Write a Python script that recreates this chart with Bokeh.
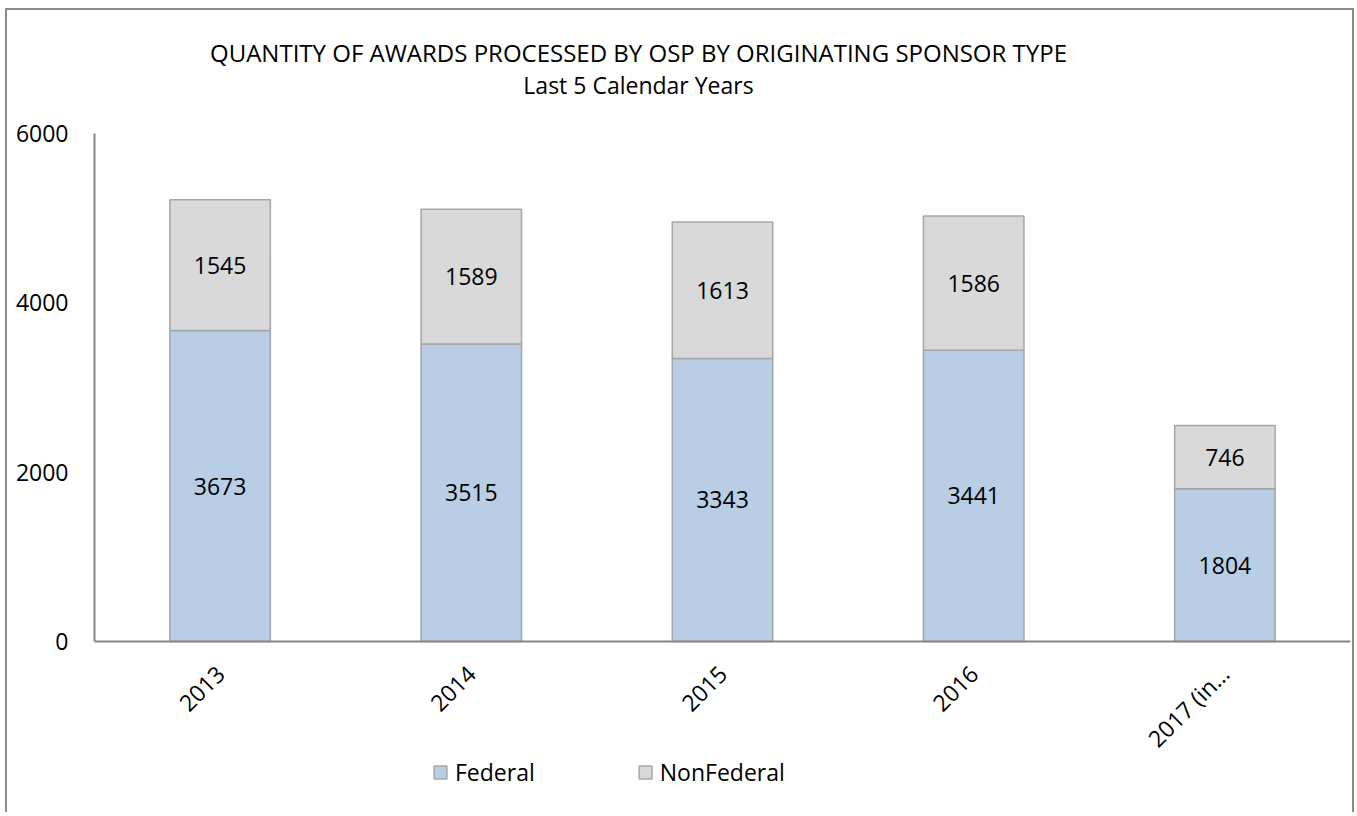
from bokeh.plotting import figure
from bokeh.models import Label, Legend, LegendItem, ColumnDataSource, FactorRange, Range1d, FixedTicker
from bokeh.core.properties import value
from bokeh.embed import file_html
from bokeh.resources import INLINE

years = ["2013", "2014", "2015", "2016", "2017 (in\u2026"]
federal = [3673, 3515, 3343, 3441, 1804]
nonfederal = [1545, 1589, 1613, 1586, 746]
y_ticks = [0, 2000, 4000, 6000]
title_1 = "QUANTITY OF AWARDS PROCESSED BY OSP BY ORIGINATING SPONSOR TYPE"
title_2 = "Last 5 Calendar Years"

FONT = "Open Sans"
FED_COLOR = "#B9CDE5"
NONFED_COLOR = "#D9D9D9"
EDGE = "#A6A6A6"
AXIS = "#868686"

# layout geometry (page pixels)
W, H = 1349, 804
CANVAS_Y0 = 10
FRAME_TOP, FRAME_BOTTOM = 20, 804      # page y of frame edges
ZERO_Y, TOP_Y = 641, 133               # page y of value 0 and value 6000
k = (ZERO_Y - TOP_Y) / 6000.0
y_end = (ZERO_Y - FRAME_TOP) / k
y_start = (ZERO_Y - FRAME_BOTTOM) / k

src = ColumnDataSource(dict(
    year=years,
    Federal=federal,
    NonFederal=nonfederal,
    fed_mid=[f / 2 for f in federal],
    non_mid=[f + n / 2 for f, n in zip(federal, nonfederal)],
    fed_txt=[str(v) for v in federal],
    non_txt=[str(v) for v in nonfederal],
))

p = figure(
    width=W, height=H,
    x_range=FactorRange(*years, range_padding=0),
    y_range=Range1d(y_start, y_end),
    output_backend="svg", toolbar_location=None,
    min_border_left=87, min_border_right=6, min_border_top=FRAME_TOP - CANVAS_Y0,
    min_border_bottom=CANVAS_Y0 + H - FRAME_BOTTOM,
)
p.margin = (8, 0, 0, 5)
p.styles = {"border-top": "2px solid #8C8C8C", "border-left": "2px solid #8C8C8C",
            "border-right": "2px solid #8C8C8C"}
p.outline_line_color = None
p.xgrid.grid_line_color = None
p.ygrid.grid_line_color = None

rs = p.vbar_stack(["Federal", "NonFederal"], x="year", width=0.4, source=src,
                  fill_color=[FED_COLOR, NONFED_COLOR], line_color=EDGE, line_width=1.5)

p.text(x="year", y="fed_mid", text="fed_txt", source=src, text_align="center",
       text_baseline="middle", text_font=value(FONT), text_font_size="23px", text_color="#000000")
p.text(x="year", y="non_mid", text="non_txt", source=src, text_align="center",
       text_baseline="middle", text_font=value(FONT), text_font_size="23px", text_color="#000000")

# axes
p.yaxis.ticker = FixedTicker(ticks=y_ticks)
p.yaxis.bounds = (0, 6000)
p.xaxis.fixed_location = 0
for ax in (p.xaxis, p.yaxis):
    ax.axis_line_color = AXIS
    ax.axis_line_width = 2
    ax.major_tick_line_color = None
    ax.minor_tick_line_color = None
    ax.major_label_text_font = FONT
    ax.major_label_text_font_size = "23px"
    ax.major_label_text_color = "#000000"
p.yaxis.major_label_standoff = 20
p.xaxis.major_label_orientation = 0.785398
p.xaxis.major_label_standoff = 22

# title lines (centred at page x 638)
title_x = (638 - 94) / ((1350 - 94) / len(years))
p.add_layout(Label(x=title_x, y=(ZERO_Y - 52) / k, text=title_1,
                   text_align="center", text_baseline="middle", text_font=FONT,
                   text_font_size="24px", text_color="#000000"))
p.add_layout(Label(x=title_x, y=(ZERO_Y - 84) / k, text=title_2,
                   text_align="center", text_baseline="middle", text_font=FONT,
                   text_font_size="23px", text_color="#000000"))

legend = Legend(items=[LegendItem(label="Federal", renderers=[rs[0]]),
                       LegendItem(label="NonFederal", renderers=[rs[1]])],
                orientation="horizontal", location=(338, FRAME_BOTTOM - 788),
                glyph_width=16, glyph_height=16, label_standoff=7, spacing=102,
                padding=0, margin=0, border_line_color=None, background_fill_alpha=0,
                label_text_font=FONT, label_text_font_size="23px", label_text_color="#000000")
p.add_layout(legend)

open("out.html", "w").write(file_html(p, INLINE))
